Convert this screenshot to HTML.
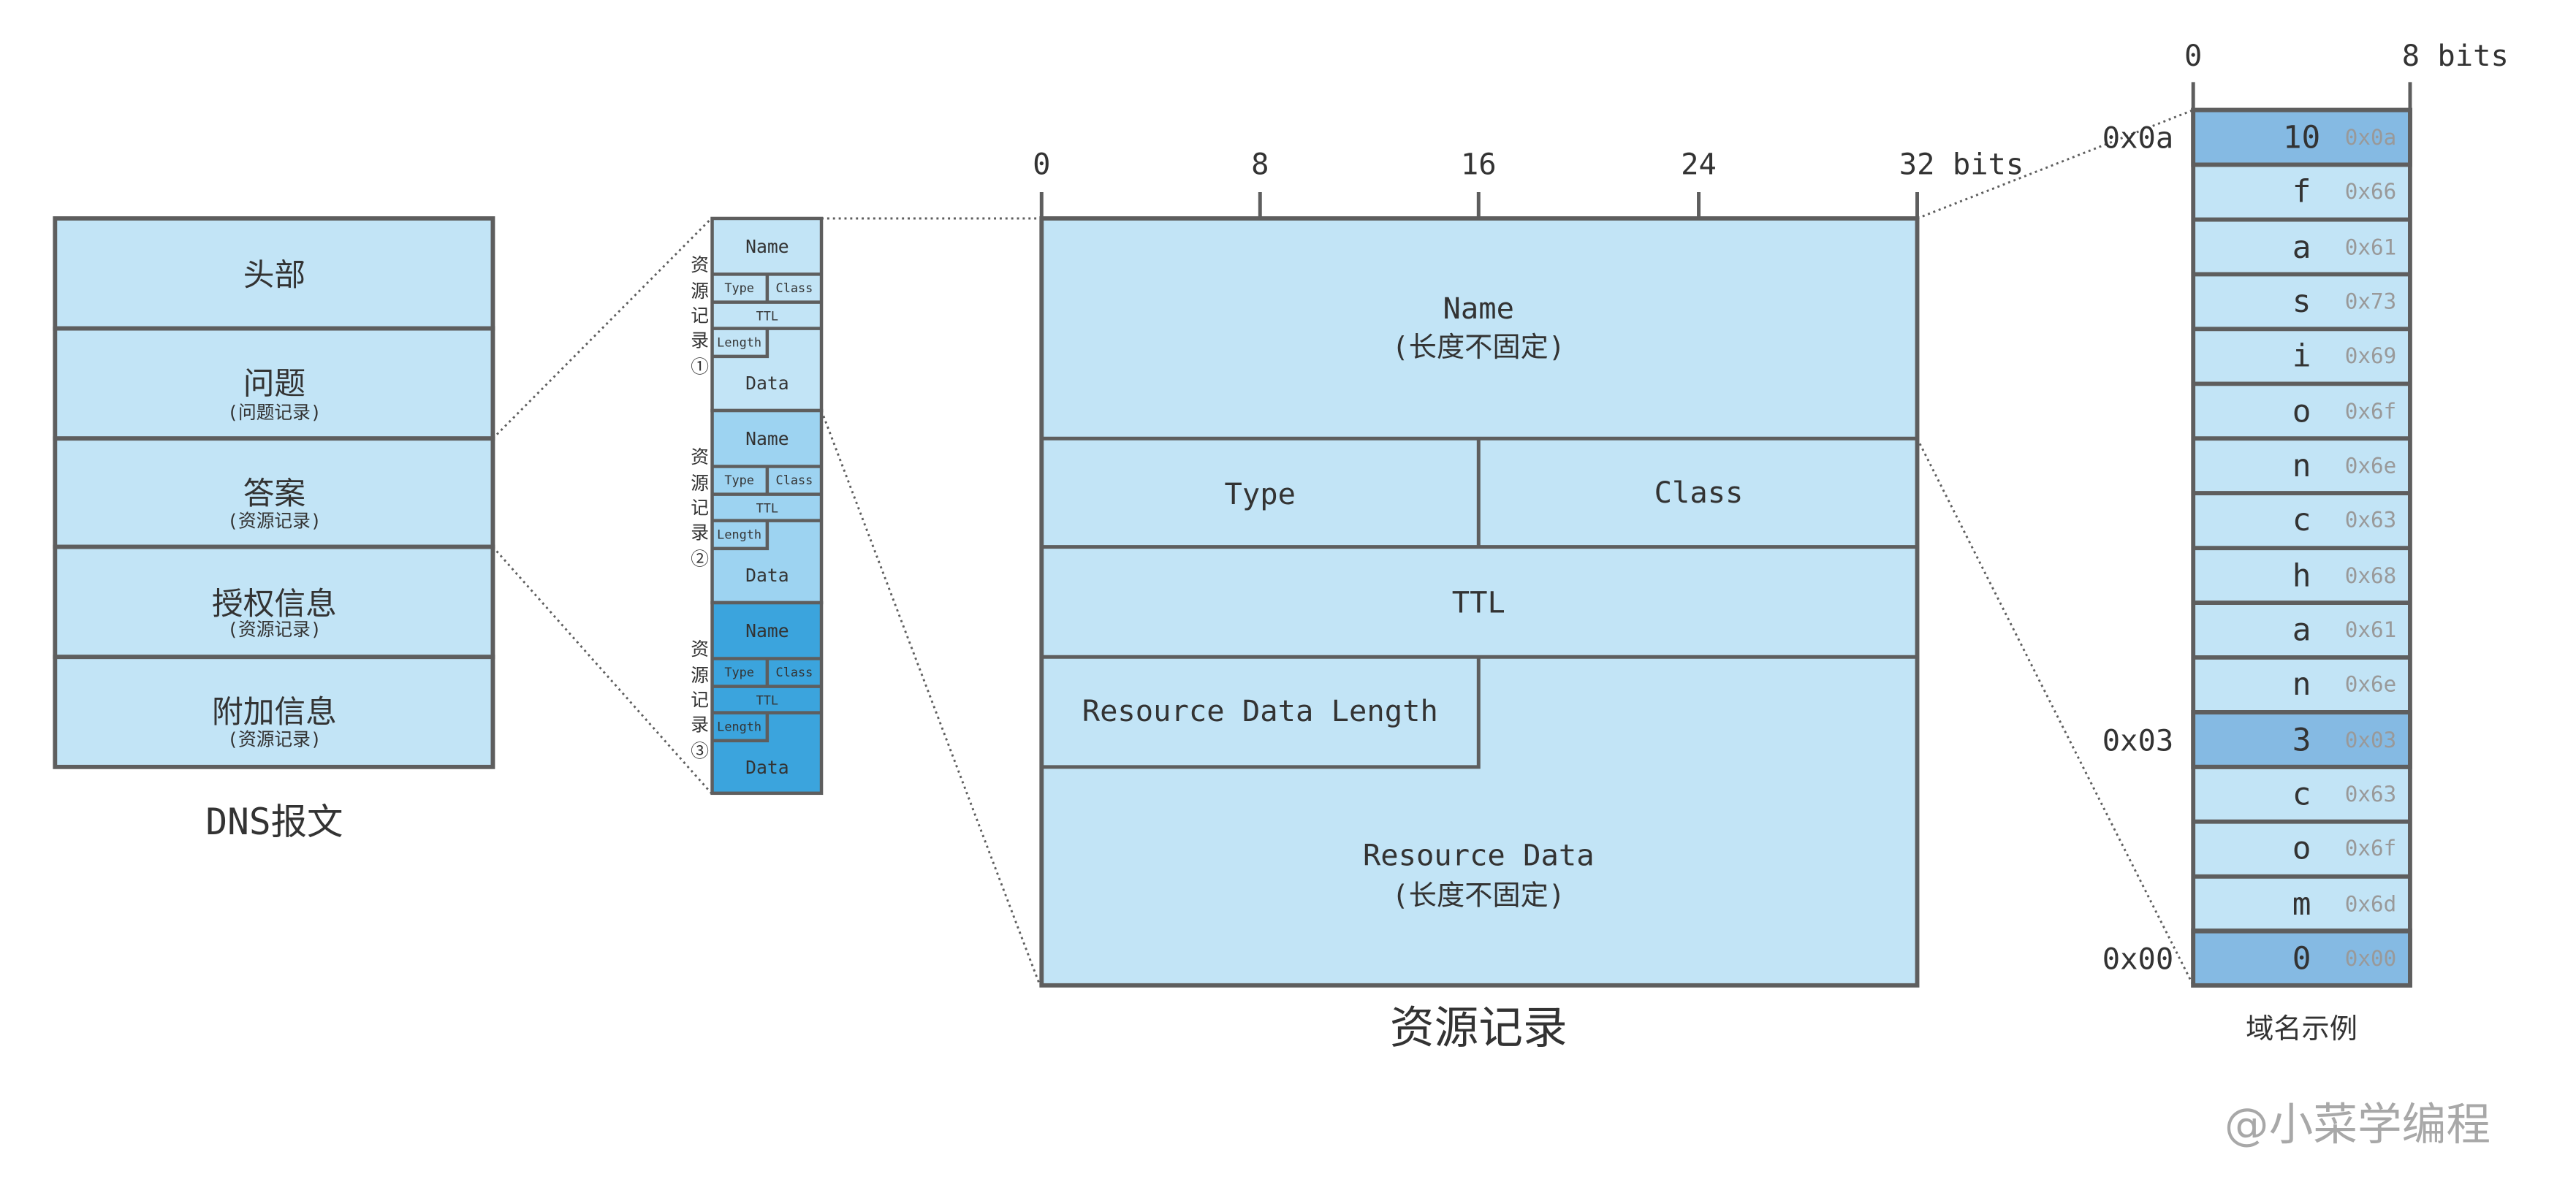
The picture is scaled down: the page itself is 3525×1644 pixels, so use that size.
<!DOCTYPE html>
<html><head><meta charset="utf-8"><style>
html,body{margin:0;padding:0;background:#fff;}
svg{display:block;}
.m{font-family:"DejaVu Sans Mono","Liberation Mono",monospace;fill:#333;}
.c{font-family:"DejaVu Sans Mono","Noto Sans CJK SC",sans-serif;fill:#333;}
.b{fill:#c2e4f6;stroke:#5e5e5e;stroke-width:2.6;}
.s{stroke:#5e5e5e;stroke-width:2.2;}
.d{stroke:#5e5e5e;stroke-width:1.3;stroke-dasharray:1.3 2.2;fill:none;}
.h{font-family:"DejaVu Sans Mono",monospace;fill:#999;font-size:13px;}
</style></head><body>
<svg width="3525" height="1644" viewBox="0 0 1568 731.3" preserveAspectRatio="none" xmlns="http://www.w3.org/2000/svg">
<line class="d" x1="300" y1="267" x2="433" y2="133"/>
<line class="d" x1="300" y1="333" x2="433" y2="483"/>
<line class="d" x1="500" y1="133" x2="633" y2="133"/>
<line class="d" x1="500" y1="250" x2="633" y2="600"/>
<line class="d" x1="1167" y1="133" x2="1335" y2="67"/>
<line class="d" x1="1167" y1="267" x2="1335" y2="600"/>

<g>
<rect class="b" x="33.5" y="133" width="266.5" height="67"/>
<rect class="b" x="33.5" y="200" width="266.5" height="67"/>
<rect class="b" x="33.5" y="267" width="266.5" height="66"/>
<rect class="b" x="33.5" y="333" width="266.5" height="67"/>
<rect class="b" x="33.5" y="400" width="266.5" height="67"/>
<g class="c" text-anchor="middle">
<text x="167" y="174" font-size="19">头部</text>
<text x="167" y="240" font-size="19">问题</text>
<text x="167" y="255" font-size="11">(问题记录)</text>
<text x="167" y="307" font-size="19">答案</text>
<text x="167" y="321" font-size="11">(资源记录)</text>
<text x="167" y="374" font-size="19">授权信息</text>
<text x="167" y="387" font-size="11">(资源记录)</text>
<text x="167" y="440" font-size="19">附加信息</text>
<text x="167" y="454" font-size="11">(资源记录)</text>
<text x="167" y="508" font-size="22">DNS报文</text>
</g>
</g>

<g>
<g stroke="#5e5e5e" stroke-width="2">
<rect x="433.5" y="133" width="66.5" height="117" fill="#c2e4f6"/>
<rect x="433.5" y="250" width="66.5" height="117" fill="#9dd3f1"/>
<rect x="433.5" y="367" width="66.5" height="116" fill="#3ba4dd"/>
<path fill="none" d="M433.5 167H500M433.5 184H500M433.5 200H500M467 167V184M433.5 217H467V200"/>
<path fill="none" d="M433.5 284H500M433.5 301H500M433.5 317H500M467 284V301M433.5 334H467V317"/>
<path fill="none" d="M433.5 401H500M433.5 418H500M433.5 434H500M467 401V418M433.5 451H467V434"/>
</g>
<g class="m" text-anchor="middle">
<text x="467" y="154" font-size="11">Name</text>
<text x="450" y="178" font-size="7.5">Type</text><text x="483.5" y="178" font-size="7.5">Class</text>
<text x="467" y="195" font-size="7.5">TTL</text>
<text x="450" y="211" font-size="7.5">Length</text>
<text x="467" y="237" font-size="11">Data</text>

<text x="467" y="271" font-size="11">Name</text>
<text x="450" y="295" font-size="7.5">Type</text><text x="483.5" y="295" font-size="7.5">Class</text>
<text x="467" y="312" font-size="7.5">TTL</text>
<text x="450" y="328" font-size="7.5">Length</text>
<text x="467" y="354" font-size="11">Data</text>

<text x="467" y="388" font-size="11">Name</text>
<text x="450" y="412" font-size="7.5">Type</text><text x="483.5" y="412" font-size="7.5">Class</text>
<text x="467" y="429" font-size="7.5">TTL</text>
<text x="450" y="445" font-size="7.5">Length</text>
<text x="467" y="471" font-size="11">Data</text>
</g>
<g class="c" text-anchor="middle" font-size="11">
<text x="426" y="165">资</text><text x="426" y="181">源</text><text x="426" y="196">记</text><text x="426" y="211">录</text><text x="426" y="227">①</text>
<text x="426" y="282">资</text><text x="426" y="298">源</text><text x="426" y="313">记</text><text x="426" y="328">录</text><text x="426" y="344">②</text>
<text x="426" y="399">资</text><text x="426" y="415">源</text><text x="426" y="430">记</text><text x="426" y="445">录</text><text x="426" y="461">③</text>
</g>
</g>

<g>
<path class="s" d="M634 117V133M767 117V133M900 117V133M1034 117V133M1167 117V133"/>
<g class="m" text-anchor="middle" font-size="18">
<text x="634" y="106">0</text><text x="767" y="106">8</text><text x="900" y="106">16</text><text x="1034" y="106">24</text>
</g>
<text class="m" x="1156" y="106" font-size="18">32 bits</text>
<rect class="b" x="634" y="133" width="533" height="467"/>
<path class="s" fill="none" d="M634 267H1167M900 267V333M634 333H1167M634 400H1167M634 467H900V400"/>
<g class="m" text-anchor="middle" font-size="18">
<text x="900" y="194">Name</text>
<text x="767" y="307">Type</text>
<text x="1034" y="306">Class</text>
<text x="900" y="373">TTL</text>
<text x="767" y="439">Resource Data Length</text>
<text x="900" y="527">Resource Data</text>
</g>
<g class="c" text-anchor="middle" font-size="17">
<text x="900" y="217">(长度不固定)</text>
<text x="900" y="551">(长度不固定)</text>
<text x="900" y="635" font-size="27">资源记录</text>
</g>
</g>

<g>
<path class="s" d="M1335 50V67M1467 50V67"/>
<text class="m" x="1335" y="40" font-size="18" text-anchor="middle">0</text>
<text class="m" x="1462" y="40" font-size="18">8 bits</text>
<g stroke="#5e5e5e" stroke-width="2.6">
<rect x="1335" y="67" width="132" height="533" fill="#c2e4f6"/>
<rect x="1335" y="67" width="132" height="33.3" fill="#85bae3"/>
<rect x="1335" y="433.7" width="132" height="33.3" fill="#85bae3"/>
<rect x="1335" y="566.7" width="132" height="33.3" fill="#85bae3"/>
<path fill="none" d="M1335 100.3H1467M1335 133.7H1467M1335 167H1467M1335 200.3H1467M1335 233.7H1467M1335 267H1467M1335 300.3H1467M1335 333.7H1467M1335 367H1467M1335 400.3H1467M1335 433.7H1467M1335 467H1467M1335 500.3H1467M1335 533.7H1467M1335 567H1467"/>
</g>
<g class="m" text-anchor="middle" font-size="19">
<text x="1401" y="90">10</text>
<text x="1401" y="123">f</text>
<text x="1401" y="157">a</text>
<text x="1401" y="190">s</text>
<text x="1401" y="223">i</text>
<text x="1401" y="257">o</text>
<text x="1401" y="290">n</text>
<text x="1401" y="323">c</text>
<text x="1401" y="357">h</text>
<text x="1401" y="390">a</text>
<text x="1401" y="423">n</text>
<text x="1401" y="457">3</text>
<text x="1401" y="490">c</text>
<text x="1401" y="523">o</text>
<text x="1401" y="557">m</text>
<text x="1401" y="590">0</text>
</g>
<g class="h" text-anchor="middle">
<text x="1443" y="88">0x0a</text>
<text x="1443" y="121">0x66</text>
<text x="1443" y="155">0x61</text>
<text x="1443" y="188">0x73</text>
<text x="1443" y="221">0x69</text>
<text x="1443" y="255">0x6f</text>
<text x="1443" y="288">0x6e</text>
<text x="1443" y="321">0x63</text>
<text x="1443" y="355">0x68</text>
<text x="1443" y="388">0x61</text>
<text x="1443" y="421">0x6e</text>
<text x="1443" y="455">0x03</text>
<text x="1443" y="488">0x63</text>
<text x="1443" y="521">0x6f</text>
<text x="1443" y="555">0x6d</text>
<text x="1443" y="588">0x00</text>
</g>
<g class="m" text-anchor="end" font-size="18">
<text x="1323" y="90">0x0a</text>
<text x="1323" y="457">0x03</text>
<text x="1323" y="590">0x00</text>
</g>
<text class="c" x="1401" y="632" font-size="17" text-anchor="middle">域名示例</text>
<text x="1435" y="694" font-size="27" text-anchor="middle" style="font-family:'DejaVu Sans','Noto Sans CJK SC',sans-serif;fill:#a8a8a8">@小菜学编程</text>
</g>
</svg>
</body></html>
